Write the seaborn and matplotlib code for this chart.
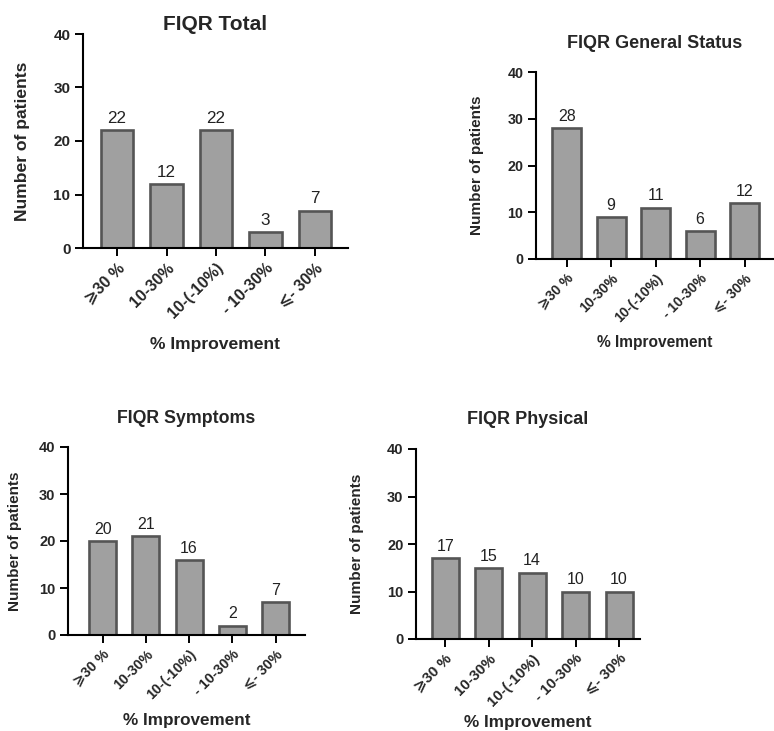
import matplotlib
matplotlib.use("Agg")
import matplotlib.pyplot as plt
import seaborn as sns
import pandas as pd

sns.set_style("ticks")
plt.rcParams['font.family'] = ['Liberation Sans', 'DejaVu Sans']

categories = ["\u2A7E30 %", "10-30%", "10-(-10%)", "- 10-30%", "\u2A7D- 30%"]
total_vals = [22, 12, 22, 3, 7]
general_vals = [28, 9, 11, 6, 12]
symptoms_vals = [20, 21, 16, 2, 7]
physical_vals = [17, 15, 14, 10, 10]
titles = ["FIQR Total", "FIQR General Status", "FIQR Symptoms", "FIQR Physical"]
yticks = [0, 10, 20, 30, 40]
xlabel = "% Improvement"
ylabel = "Number of patients"

W, H = 774, 731
fig = plt.figure(figsize=(W / 100, H / 100), dpi=100)

panels = [
    dict(vals=total_vals, title=titles[0], l=83, r=348, t=34, b=248, xlim=(-0.69, 4.67), w=0.65,
         tpad=4, xly=345, ylx=23, f_title=15, f_ylab=12.6, f_xlab=12.6, f_ytick=11, f_xtick=11.5, f_val=12.3),
    dict(vals=general_vals, title=titles[1], l=536, r=773, t=72, b=259, xlim=(-0.69, 4.64), w=0.65,
         tpad=24, xly=343, ylx=477, f_title=13, f_ylab=11, f_xlab=11.2, f_ytick=10.3, f_xtick=10, f_val=11.5),
    dict(vals=symptoms_vals, title=titles[2], l=68, r=305, t=447, b=635, xlim=(-0.8, 4.68), w=0.62,
         tpad=24, xly=720, ylx=15, f_title=12.8, f_ylab=11, f_xlab=12.3, f_ytick=10.5, f_xtick=10.3, f_val=11.5),
    dict(vals=physical_vals, title=titles[3], l=416, r=640, t=449, b=639, xlim=(-0.67, 4.48), w=0.62,
         tpad=25, xly=722, ylx=357, f_title=13, f_ylab=11.1, f_xlab=12.3, f_ytick=10.5, f_xtick=10.8, f_val=11.5),
]

for p in panels:
    ax = fig.add_axes([p['l'] / W, 1 - p['b'] / H, (p['r'] - p['l']) / W, (p['b'] - p['t']) / H])
    df = pd.DataFrame({"cat": categories, "val": p['vals']})
    sns.barplot(data=df, x="cat", y="val", ax=ax, color="#a0a0a0", saturation=1,
                width=p['w'], edgecolor="#555555", linewidth=1.9)
    for c in ax.containers:
        ax.bar_label(c, padding=3, fontsize=p['f_val'], color="#222222")
    ax.set_xlim(*p['xlim'])
    ax.set_ylim(0, 40)
    ax.set_yticks(yticks)
    ax.set_yticklabels([str(v) for v in yticks], fontsize=p['f_ytick'], fontweight='bold')
    ax.set_xticks(range(len(categories)))
    ax.set_xticklabels(categories, rotation=45, ha='right', rotation_mode='anchor',
                       fontsize=p['f_xtick'], fontweight='bold')
    ax.tick_params(axis='both', length=6, width=1.4, color='black', pad=3)
    for sp in ['top', 'right']:
        ax.spines[sp].set_visible(False)
    for sp in ['left', 'bottom']:
        ax.spines[sp].set_linewidth(1.5)
        ax.spines[sp].set_color('black')
    ax.set_title(p['title'], fontsize=p['f_title'], fontweight='bold', pad=p['tpad'] * 0.72)
    ax.set_xlabel(xlabel, fontsize=p['f_xlab'], fontweight='bold')
    ax.set_ylabel(ylabel, fontsize=p['f_ylab'], fontweight='bold')
    hpx = p['b'] - p['t']
    wpx = p['r'] - p['l']
    ax.xaxis.set_label_coords(0.5, (p['b'] - p['xly']) / hpx)
    ax.xaxis.label.set_va('center')
    ax.yaxis.set_label_coords((p['ylx'] - p['l']) / wpx, 0.5)
    ax.yaxis.label.set_va('center')

fig.savefig("out.png", dpi=100, facecolor='white')
